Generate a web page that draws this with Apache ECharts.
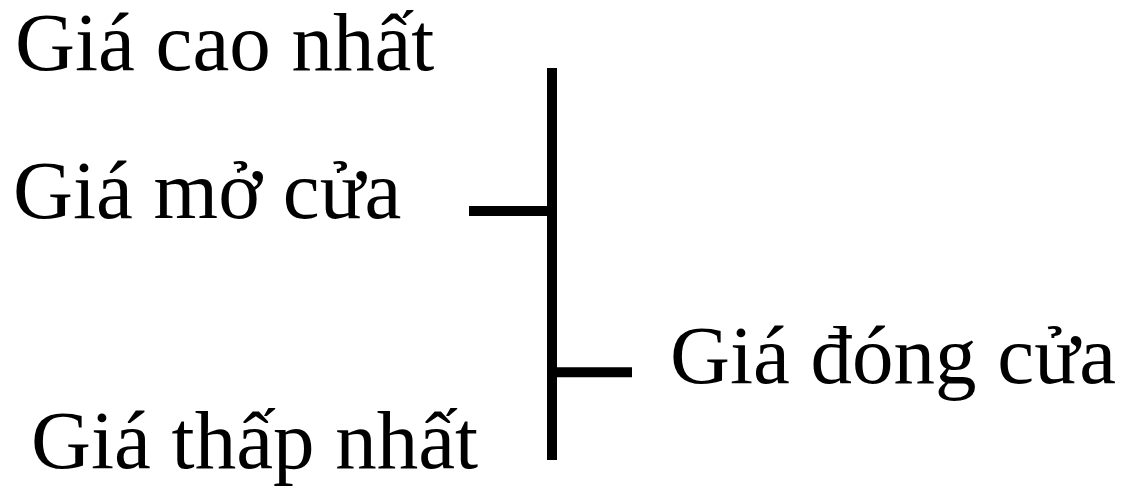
<!DOCTYPE html>
<html>
<head>
<meta charset="utf-8">
<script src="https://cdn.jsdelivr.net/npm/echarts@6/dist/echarts.min.js"></script>
<style>
  html, body { margin: 0; padding: 0; background: #fff; }
  #chart { width: 1122px; height: 500px; }
</style>
</head>
<body>
<div id="chart"></div>
<script>
// một thanh OHLC minh hoạ (giá tương đối)
var categories = ['phiên']
var openValues = [63.5]
var closeValues = [22.4]
var lowValues = [0]
var highValues = [100]
var labelTexts = ['Giá cao nhất', 'Giá mở cửa', 'Giá đóng cửa', 'Giá thấp nhất']

var ohlc = categories.map(function (c, i) {
  return [i, openValues[i], closeValues[i], lowValues[i], highValues[i]]
})

var myChart = echarts.init(document.getElementById('chart'))

function renderOHLC (params, api) {
  var x = api.value(0)
  var openPt = api.coord([x, api.value(1)])
  var closePt = api.coord([x, api.value(2)])
  var lowPt = api.coord([x, api.value(3)])
  var highPt = api.coord([x, api.value(4)])
  var style = { stroke: '#000', lineWidth: 10, lineCap: 'butt' }
  return {
    type: 'group',
    children: [
      { type: 'line', shape: { x1: highPt[0], y1: highPt[1], x2: lowPt[0], y2: lowPt[1] }, style: style },
      { type: 'line', shape: { x1: openPt[0] - 83, y1: openPt[1], x2: openPt[0], y2: openPt[1] }, style: style },
      { type: 'line', shape: { x1: closePt[0], y1: closePt[1], x2: closePt[0] + 80, y2: closePt[1] }, style: style }
    ]
  }
}

var textFont = { fontFamily: '"Liberation Serif", "Times New Roman", serif', fontSize: 83, fill: '#000' }
function label (txt, left, top) {
  return {
    type: 'text',
    left: left,
    top: top,
    style: Object.assign({ text: txt }, textFont)
  }
}

myChart.setOption({
  animation: false,
  backgroundColor: '#fff',
  grid: { left: 452, width: 200, top: 68, height: 392 },
  xAxis: { type: 'category', data: categories, show: false },
  yAxis: { type: 'value', min: 0, max: 100, show: false },
  graphic: [
    label(labelTexts[0], 15, 7),
    label(labelTexts[1], 13, 155),
    label(labelTexts[2], 670, 320),
    label(labelTexts[3], 31, 405)
  ],
  series: [
    {
      type: 'custom',
      renderItem: renderOHLC,
      data: ohlc,
      encode: { x: 0, y: [1, 2, 3, 4] }
    }
  ]
})
</script>
</body>
</html>
